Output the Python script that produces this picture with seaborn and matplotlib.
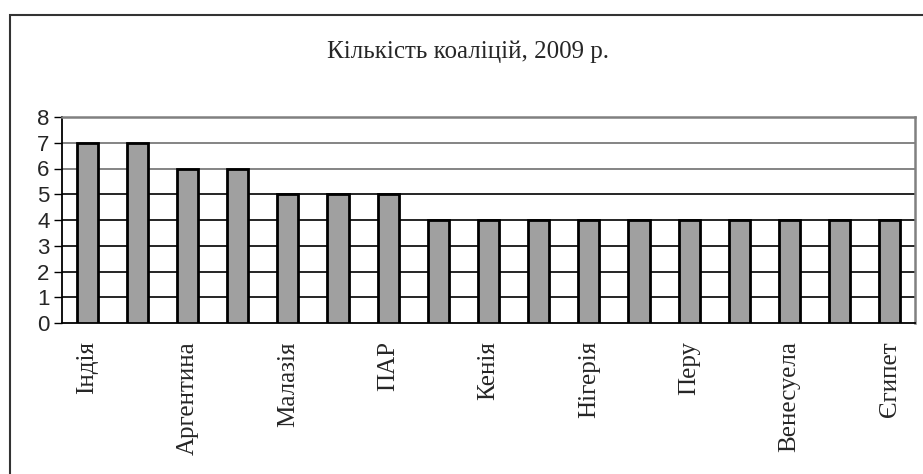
import matplotlib
matplotlib.use("Agg")
import matplotlib.pyplot as plt
import seaborn as sns
import pandas as pd
from matplotlib.patches import Rectangle

categories = ["Індія", "Бразилія", "Аргентина", "Китай", "Малазія", "Мексика", "ПАР",
              "Індонезія", "Кенія", "Філіппіни", "Нігерія", "Пакистан", "Перу",
              "Таїланд", "Венесуела", "Чилі", "Єгипет"]
values = [7, 7, 6, 6, 5, 5, 5, 4, 4, 4, 4, 4, 4, 4, 4, 4, 4]
shown_labels = ["Індія", "", "Аргентина", "", "Малазія", "", "ПАР", "", "Кенія", "",
                "Нігерія", "", "Перу", "", "Венесуела", "", "Єгипет"]
title = "Кількість коаліцій, 2009 р."

sns.set_style("white")
plt.rcParams['font.family'] = ['Liberation Serif', 'DejaVu Serif']

df = pd.DataFrame({"country": categories, "value": values})

fig = plt.figure(figsize=(9.23, 4.74), dpi=100)
ax = fig.add_axes([62/923, 1-323/474, (915-62)/923, (323-117)/474])

sns.barplot(data=df, x="country", y="value", ax=ax, color="#a0a0a0",
            width=0.42, edgecolor="black", linewidth=2, saturation=1, zorder=3)

ax.set_ylim(0, 8)
ax.set_xlim(-0.5, len(categories) - 0.5)
ax.set_yticks(range(0, 9))
ax.set_yticklabels([str(i) for i in range(0, 9)], family="Liberation Sans", fontsize=16)
for yv in range(1, 8):
    ax.axhline(yv, color="#707070" if yv >= 6 else "black", linewidth=1.2, zorder=0)

ax.set_xticks(range(len(categories)))
ax.set_xticklabels(shown_labels, rotation=90, fontsize=18, family="Liberation Serif")
ax.tick_params(axis="x", length=0, pad=13)
ax.set_xticks([i - 0.5 for i in range(len(categories) + 1)], minor=True)
ax.tick_params(axis="x", which="minor", length=7, width=1, color="black", direction="out")
ax.tick_params(axis="y", length=6, width=1, color="black", direction="out", pad=3, left=True)

ax.set_xlabel("")
ax.set_ylabel("")
for s in ["left", "bottom"]:
    ax.spines[s].set_color("black")
    ax.spines[s].set_linewidth(1.3)
for s in ["top", "right"]:
    ax.spines[s].set_color("#808080")
    ax.spines[s].set_linewidth(1.8)

fig.text(468/923, 1-52/474, title, ha="center", va="center", fontsize=18,
         family="Liberation Serif")

fig.patches.append(Rectangle((10/923, -0.1), 1.2, 1-15/474+0.1, transform=fig.transFigure,
                             fill=False, edgecolor="#333333", linewidth=1.5))

fig.savefig("out.png", dpi=100)
